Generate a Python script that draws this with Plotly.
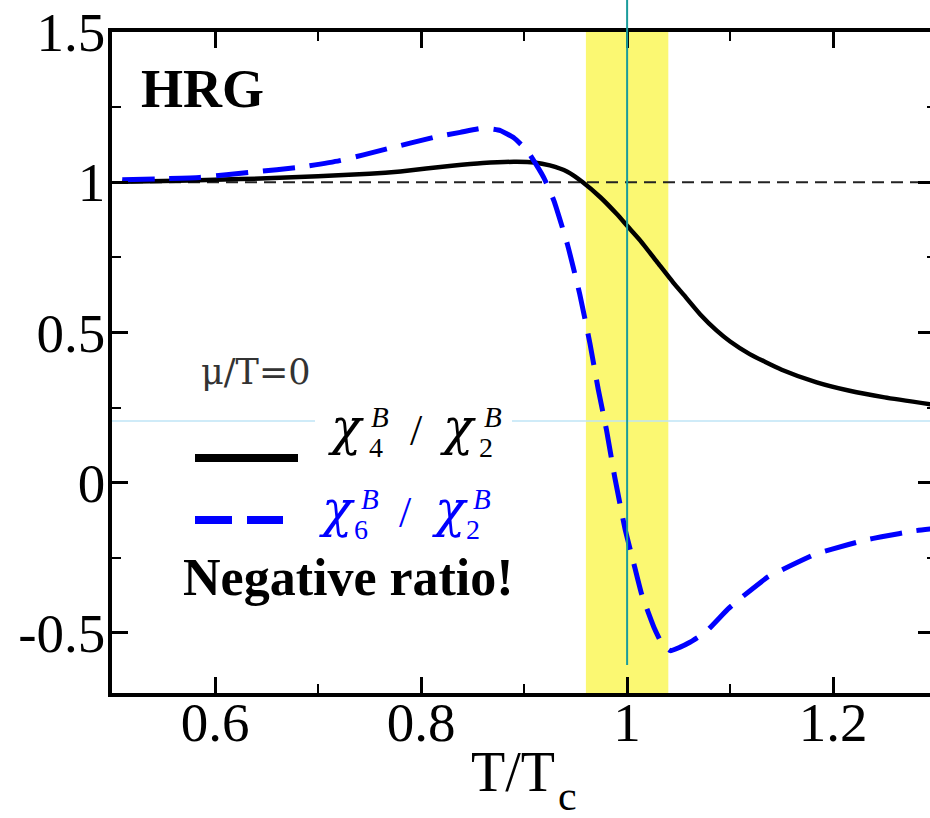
import plotly.graph_objects as go

# ---------------- data ----------------
T_chi4 = [0.51, 0.55, 0.60, 0.65, 0.70, 0.75, 0.78, 0.83, 0.86, 0.89, 0.91, 0.925,
          0.942, 0.957, 0.974, 0.99, 1.0, 1.013, 1.029, 1.045, 1.055, 1.071, 1.087,
          1.10, 1.119, 1.15, 1.184, 1.216, 1.25, 1.30]
chi4_over_chi2 = [1.002, 1.004, 1.008, 1.013, 1.020, 1.028, 1.036, 1.055, 1.064, 1.068,
                  1.066, 1.056, 1.035, 1.000, 0.950, 0.894, 0.855, 0.805, 0.735, 0.665,
                  0.625, 0.560, 0.506, 0.470, 0.428, 0.376, 0.334, 0.306, 0.284, 0.258]

T_chi6 = [0.51, 0.55, 0.585, 0.637, 0.683, 0.721, 0.767, 0.812, 0.838, 0.86, 0.877,
          0.89, 0.903, 0.919, 0.929, 0.942, 0.954, 0.964, 0.972, 0.980, 0.988, 0.998,
          1.006, 1.014, 1.026, 1.034, 1.042, 1.051, 1.061, 1.076, 1.098, 1.111, 1.137,
          1.152, 1.183, 1.199, 1.231, 1.247, 1.28, 1.30]
chi6_over_chi2 = [1.008, 1.012, 1.016, 1.034, 1.050, 1.072, 1.111, 1.149, 1.166, 1.180,
                  1.172, 1.148, 1.105, 1.016, 0.938, 0.794, 0.628, 0.462, 0.310, 0.175,
                  0.018, -0.154, -0.262, -0.370, -0.481, -0.537, -0.559, -0.548, -0.531,
                  -0.498, -0.420, -0.382, -0.313, -0.287, -0.237, -0.221, -0.191, -0.180,
                  -0.160, -0.152]

x_tickvals = [0.6, 0.8, 1.0, 1.2]
x_ticktext = ["0.6", "0.8", "1", "1.2"]
x_minor = [0.7, 0.9, 1.1]
y_tickvals = [-0.5, 0.0, 0.5, 1.0, 1.5]
y_ticktext = ["-0.5", "0", "0.5", "1", "1.5"]
y_minor = [-0.25, 0.25, 0.75, 1.25]

x_range = [0.5, 1.294]
y_range = [-0.7, 1.5]
crossover_band = [0.96, 1.04]
Tc_value = 1.0
unity_value = 1.0
light_ref_value = 0.205

# ---------------- layout geometry ----------------
W, H = 930, 818
ML, MR, MT, MB = 112, 0, 32, 125
PW, PH = W - ML - MR, H - MT - MB


def px(x):
    return (x - ML) / PW


def py(y):
    return (H - MB - y) / PH


SERIF = "Liberation Serif, Times New Roman, serif"
CHI_FONT = "DejaVu Serif, Liberation Serif, serif"
BLUE = "#0000ff"

fig = go.Figure()

fig.add_trace(go.Scatter(
    x=T_chi4, y=chi4_over_chi2, mode="lines",
    line=dict(color="black", width=4.5, shape="spline", smoothing=0.5),
    showlegend=False, hoverinfo="skip"))
fig.add_trace(go.Scatter(
    x=T_chi6, y=chi6_over_chi2, mode="lines",
    line=dict(color=BLUE, width=5, dash="32px,15px", shape="spline", smoothing=0.4),
    showlegend=False, hoverinfo="skip"))
# invisible helper trace to carry the right-hand tick axis
fig.add_trace(go.Scatter(x=[x_range[0]], y=[0], yaxis="y2", mode="markers",
                         marker=dict(opacity=0), showlegend=False, hoverinfo="skip"))

shapes = [
    dict(type="rect", xref="x", yref="paper", x0=crossover_band[0], x1=crossover_band[1],
         y0=0, y1=1, fillcolor="#fbf872", line=dict(width=0), layer="below"),
    dict(type="line", xref="paper", yref="y", x0=0, x1=1, y0=light_ref_value, y1=light_ref_value,
         line=dict(color="#bfe4f6", width=1.5), layer="below"),
    # white patch behind the first legend label
    dict(type="rect", xref="paper", yref="paper", x0=px(315), x1=px(512), y0=py(437), y1=py(405),
         fillcolor="white", line=dict(width=0), layer="below"),
    dict(type="line", xref="paper", yref="y", x0=0, x1=1, y0=unity_value, y1=unity_value,
         line=dict(color="#222222", width=2.2, dash="12px,7px"), layer="below"),
    dict(type="line", xref="x", yref="paper", x0=Tc_value, x1=Tc_value, y0=py(665), y1=py(0),
         line=dict(color="#1a9c9c", width=2), layer="above"),
    # legend samples
    dict(type="line", xref="paper", yref="paper", x0=px(195), x1=px(298), y0=py(458), y1=py(458),
         line=dict(color="black", width=8)),
    dict(type="line", xref="paper", yref="paper", x0=px(195), x1=px(283), y0=py(520), y1=py(520),
         line=dict(color=BLUE, width=8, dash="37px,15px")),
]


def txt(text, x, y, size, color="black", family=SERIF, xanchor="center"):
    return dict(text=text, x=px(x), y=py(y), xref="paper", yref="paper", showarrow=False,
                font=dict(family=family, size=size, color=color),
                xanchor=xanchor, yanchor="middle")


def ratio_label(num, cy, color, pos):
    # pos: pixel centres for chi1, sub, B1, slash, chi2, sub2, B2
    c1, s1, b1, sl, c2, s2, b2 = pos
    return [
        txt("<i>χ</i>", c1, cy - 12, 50, color, CHI_FONT),
        txt(num, s1, cy + 8, 28, color),
        txt("<i>B</i>", b1, cy - 22, 29, color),
        txt("/", sl, cy - 9, 44, color),
        txt("<i>χ</i>", c2, cy - 12, 50, color, CHI_FONT),
        txt("2", s2, cy + 8, 28, color),
        txt("<i>B</i>", b2, cy - 22, 29, color),
    ]


annotations = [
    txt("<b>HRG</b>", 202, 89, 54),
    txt("μ/T=0", 255, 372, 35, "#333333", "DejaVu Serif"),
    txt("<b>Negative ratio!</b>", 348, 577, 52),
    txt("T/T", 513, 772, 56),
    txt("c", 567, 796, 42),
]
annotations += ratio_label("4", 439, "black", (346, 376, 380, 416, 458, 486, 493))
annotations += ratio_label("6", 521, BLUE, (337, 361, 370, 405, 450, 473, 482))

tickfont = dict(family=SERIF, size=55, color="black")

fig.update_layout(
    width=W, height=H,
    margin=dict(l=ML, r=MR, t=MT, b=MB, pad=0),
    paper_bgcolor="white", plot_bgcolor="white",
    shapes=shapes, annotations=annotations,
    xaxis=dict(
        range=x_range, showgrid=False, zeroline=False,
        showline=True, linecolor="black", linewidth=3.5, mirror="ticks",
        ticks="inside", ticklen=16, tickwidth=2.5, tickcolor="black",
        tickvals=x_tickvals, ticktext=x_ticktext, tickfont=tickfont,
        ticklabelstandoff=-22,
        minor=dict(ticks="inside", ticklen=9, tickwidth=2, tickcolor="black", tickvals=x_minor),
    ),
    yaxis=dict(
        range=y_range, showgrid=False, zeroline=False,
        showline=True, linecolor="black", linewidth=3.5, mirror=False,
        ticks="inside", ticklen=16, tickwidth=2.5, tickcolor="black",
        tickvals=y_tickvals, ticktext=y_ticktext, tickfont=tickfont,
        ticklabelstandoff=-8,
        minor=dict(ticks="inside", ticklen=9, tickwidth=2, tickcolor="black", tickvals=y_minor),
    ),
    yaxis2=dict(
        range=y_range, overlaying="y", side="right", showgrid=False, zeroline=False,
        showline=False, showticklabels=False,
        ticks="inside", ticklen=12, tickwidth=2.5, tickcolor="black",
        tickvals=y_tickvals,
        minor=dict(ticks="inside", ticklen=3, tickwidth=2, tickcolor="black", tickvals=y_minor),
    ),
)

fig.write_html("out.html")
